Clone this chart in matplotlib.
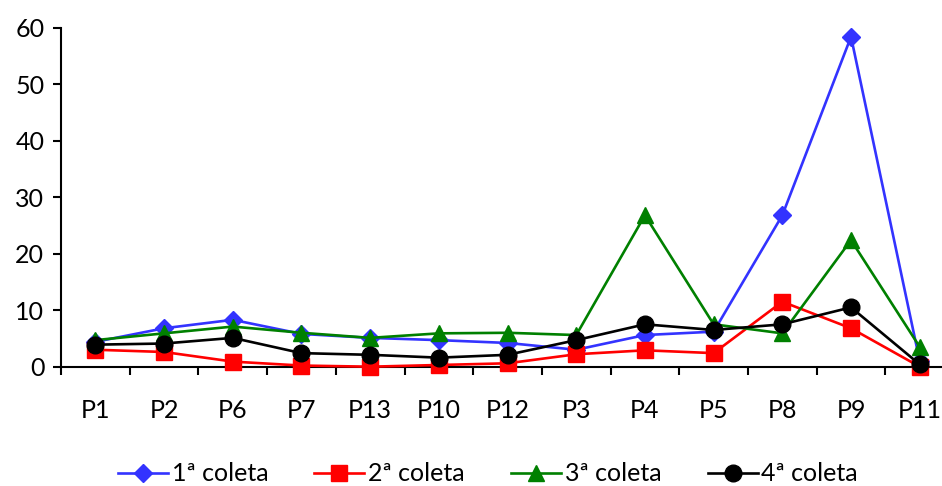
import matplotlib
matplotlib.use("Agg")
import matplotlib.pyplot as plt
import numpy as np

plt.rcParams['font.family'] = ['Lato', 'DejaVu Sans']

pontos = ["P1", "P2", "P6", "P7", "P13", "P10", "P12", "P3", "P4", "P5", "P8", "P9", "P11"]

coleta1 = [4.4, 6.8, 8.3, 5.8, 5.1, 4.7, 4.2, 3.0, 5.6, 6.2, 26.8, 58.4, 1.0]
coleta2 = [3.0, 2.6, 0.9, 0.2, 0.0, 0.3, 0.6, 2.2, 2.9, 2.4, 11.5, 6.8, 0.0]
coleta3 = [4.7, 5.9, 7.1, 6.0, 5.1, 5.9, 6.0, 5.6, 26.8, 7.5, 5.9, 22.4, 3.5]
coleta4 = [3.9, 4.1, 5.1, 2.4, 2.1, 1.6, 2.1, 4.7, 7.5, 6.5, 7.5, 10.5, 0.4]

series = [
    ("1ª coleta", coleta1, "#3333FF", "D", 9),
    ("2ª coleta", coleta2, "#FF0000", "s", 11),
    ("3ª coleta", coleta3, "#008000", "^", 12),
    ("4ª coleta", coleta4, "#000000", "o", 12),
]

fig = plt.figure(figsize=(9.42, 4.86), dpi=100)
ax = fig.add_axes([0.0648, 0.2455, 0.948, 0.6975])

x = np.arange(len(pontos))
for label, vals, cor, mk, ms in series:
    ax.plot(x, vals, color=cor, marker=mk, markersize=ms, linewidth=1.9,
            label=label, clip_on=False, zorder=3)

ax.set_xlim(-0.5, len(pontos) - 0.5)
ax.set_ylim(0, 60)
ax.set_yticks(range(0, 61, 10))
ax.tick_params(axis='y', labelsize=18, length=6, width=1.5, direction='out', pad=6)

# ticks nas divisas, rotulos no centro das categorias
ax.set_xticks(np.arange(-0.5, len(pontos), 1))
ax.set_xticklabels([])
ax.tick_params(axis='x', which='major', length=6, width=1.5, direction='out')
ax.set_xticks(x, minor=True)
ax.set_xticklabels(pontos, minor=True)
ax.tick_params(axis='x', which='minor', length=0, labelsize=18, pad=23)

for s in ['top', 'right']:
    ax.spines[s].set_visible(False)
for s in ['left', 'bottom']:
    ax.spines[s].set_linewidth(1.5)

fig.legend(loc='center', bbox_to_anchor=(0.518, 0.025), ncol=4, frameon=False,
           fontsize=18, handlelength=2.0, handletextpad=0.15, columnspacing=1.85)

fig.savefig("out.png", dpi=100)
